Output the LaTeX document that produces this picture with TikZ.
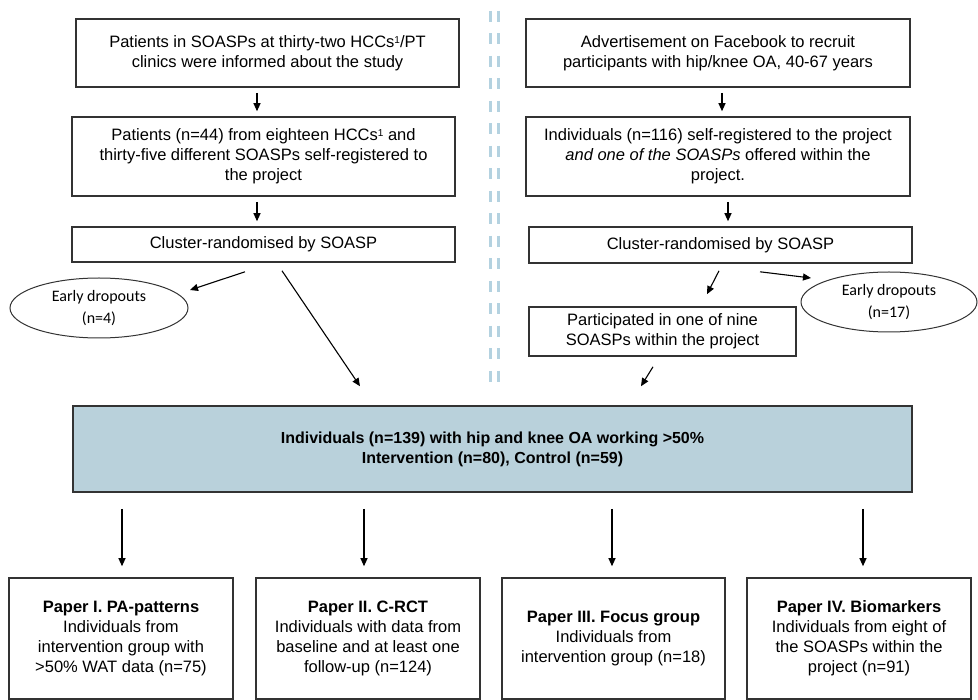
\documentclass[tikz,border=0pt]{standalone}
\usepackage{fontspec}
\setmainfont{Liberation Sans}
\newfontfamily\calfont{Carlito}
\usetikzlibrary{arrows.meta,shapes.geometric}
\definecolor{divblue}{HTML}{B4D2E0}
\definecolor{boxblue}{HTML}{B9D1DB}
\definecolor{edge}{HTML}{333333}
\newcommand{\supone}{\raisebox{0.45ex}{\fontsize{10}{10}\selectfont 1}}
\tikzset{
  flowbox/.style={draw=edge, line width=1.6pt, align=center, inner sep=0pt,
    font=\fontsize{16.5}{20}\selectfont},
  dropell/.style={draw=edge, line width=1pt, ellipse, inner sep=0pt, align=center,
    font=\calfont\fontsize{16}{22}\selectfont},
  arr/.style={draw=black, line width=1.1pt, -{Triangle[length=8pt,width=7pt]}},
  divline/.style={draw=divblue, line width=3pt, dash pattern=on 11pt off 11.5pt}
}
\begin{document}
\begin{tikzpicture}[x=1pt,y=-1pt]
\useasboundingbox[fill=white] (0,0) rectangle (978,700);
% divider
\draw[divline] (490,11) -- (490,386);
\draw[divline] (498,11) -- (498,386);
% left column
\node[flowbox, minimum width=383, minimum height=68] (b1) at (267.5,53)
  {Patients in SOASPs at thirty-two HCCs\supone/PT\\clinics were informed  about the study};
\node[flowbox, minimum width=383, minimum height=79] (b2) at (263.5,156.5)
  {Patients (n=44) from eighteen HCCs\supone{} and\\thirty-five different SOASPs self-registered to\\the project};
\node[flowbox, minimum width=383, minimum height=35] (b3) at (263.5,244.5)
  {Cluster-randomised by SOASP};
% right column
\node[flowbox, minimum width=384, minimum height=68] (r1) at (718,53)
  {Advertisement on Facebook to recruit\\participants with hip/knee OA, 40-67 years};
\node[flowbox, minimum width=384, minimum height=79] (r2) at (718,156.5)
  {Individuals (n=116) self-registered to the project\\\textit{and one of the SOASPs} offered within the\\project.};
\node[flowbox, minimum width=383, minimum height=36] (r3) at (720.5,245)
  {Cluster-randomised by SOASP};
\node[flowbox, minimum width=267, minimum height=49] (part) at (662.5,331.5)
  {Participated in one of nine\\SOASPs within the project};
% ellipses
\node[dropell, minimum width=178, minimum height=60] (el) at (99,308)
  {Early dropouts\\(n=4)};
\node[dropell, minimum width=176, minimum height=60] (er) at (889,302)
  {Early dropouts\\(n=17)};
% blue box
\node[flowbox, fill=boxblue, minimum width=839, minimum height=86,
  font=\bfseries\fontsize{16}{20}\selectfont] (blue) at (492.5,449)
  {Individuals (n=139) with hip and knee OA working >50\%\\Intervention (n=80), Control (n=59)};
% bottom boxes
\node[flowbox, minimum width=224, minimum height=121] (p1) at (121,638.5)
  {\textbf{Paper I. PA-patterns}\\Individuals from\\intervention group with\\>50\% WAT data (n=75)};
\node[flowbox, minimum width=224, minimum height=121] (p2) at (368,638.5)
  {\textbf{Paper II. C-RCT}\\Individuals with data from\\baseline and at least one\\follow-up (n=124)};
\node[flowbox, minimum width=223, minimum height=121] (p3) at (613.5,638.5)
  {\textbf{Paper III. Focus group}\\Individuals from\\intervention group (n=18)};
\node[flowbox, minimum width=224, minimum height=121] (p4) at (859,638.5)
  {\textbf{Paper IV. Biomarkers}\\Individuals from eight of\\the SOASPs within the\\project (n=91)};
% arrows
\draw[arr] ([shift={(-10.5,5)}]b1.south) -- ([shift={(-6.5,-5)}]b2.north);
\draw[arr] ([shift={(-6.5,5)}]b2.south) -- ([shift={(-6.5,-5)}]b3.north);
\draw[arr] ([shift={(4,5)}]r1.south) -- ([shift={(4,-5)}]r2.north);
\draw[arr] ([shift={(10,5)}]r2.south) -- ([shift={(7.5,-5)}]r3.north);
\draw[arr] ([shift={(-18.5,9)}]b3.south) -- ([shift={(91,-18)}]el.center);
\draw[arr] ([shift={(18.5,8)}]b3.south) -- ([shift={(-132.5,-19)}]blue.north);
\draw[arr] ([shift={(-1.5,7)}]r3.south) -- ([shift={(44.5,-12)}]part.north);
\draw[arr] ([shift={(39.5,8)}]r3.south) -- ([shift={(-78,-24)}]er.center);
\draw[arr] ([shift={(-9.5,10)}]part.south) -- ([shift={(148.5,-19)}]blue.north);
\draw[arr] ([shift={(-370.5,16)}]blue.south) -- ([shift={(1,-11)}]p1.north);
\draw[arr] ([shift={(-128.5,16)}]blue.south) -- ([shift={(-4,-11)}]p2.north);
\draw[arr] ([shift={(119.5,16)}]blue.south) -- ([shift={(-1.5,-11)}]p3.north);
\draw[arr] ([shift={(370.5,16)}]blue.south) -- ([shift={(4,-11)}]p4.north);
\end{tikzpicture}
\end{document}
